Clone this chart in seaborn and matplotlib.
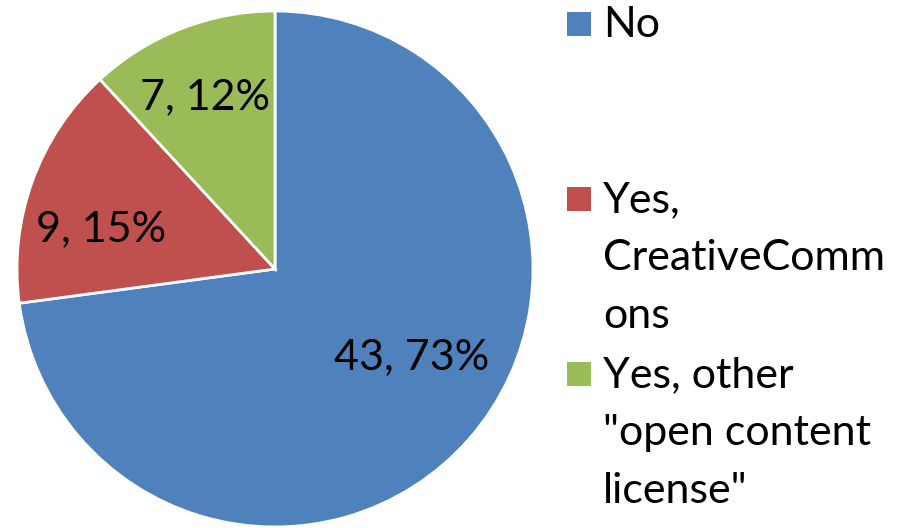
import matplotlib
matplotlib.use("Agg")
import matplotlib.pyplot as plt
from matplotlib.patches import Rectangle
import seaborn as sns
import numpy as np

categories = ["No", "Yes, CreativeCommons", 'Yes, other "open content license"']
legend_lines = [["No"], ["Yes,", "CreativeComm", "ons"], ["Yes, other", '"open content', 'license"']]
counts = [43, 9, 7]
colors = ["#4F81BD", "#C0504D", "#9BBB59"]

sns.set_theme(style="white")
plt.rcParams["font.family"] = ["Lato", "DejaVu Sans"]

W, H = 908, 528
fig = plt.figure(figsize=(W / 100, H / 100), dpi=100)

def px(x, y):
    return x / W, 1 - y / H

# pie area: centre (275, 269), radius 258 px
cx, cy, r = 275, 269, 258
ax = fig.add_axes([(cx - r) / W, 1 - (cy + r) / H, 2 * r / W, 2 * r / H])
total = sum(counts)
wedges, _ = ax.pie(counts, colors=colors, startangle=90, counterclock=False,
                   radius=1, wedgeprops=dict(edgecolor="white", linewidth=2))
ax.set_xlim(-1, 1)
ax.set_ylim(-1, 1)
ax.set_aspect("equal")
ax.axis("off")

FS = 31

# data labels: "count, percent" placed inside each slice
label_pos = [(-33, 0.63), (167, 0.69), (112, 0.72)]
for c, (ang, dist) in zip(counts, label_pos):
    a = np.deg2rad(ang)
    ax.text(dist * np.cos(a), dist * np.sin(a), f"{c}, {round(100 * c / total)}%",
            ha="center", va="center", fontsize=FS, color="black")

# legend: square marker beside wrapped entry text
first_baselines = [37, 212, 387]
line_step = 58
for col, lines, base in zip(colors, legend_lines, first_baselines):
    x0, y0 = px(567, base - 1)
    fig.patches.append(Rectangle((x0, y0), 24 / W, 24 / H, transform=fig.transFigure,
                                 facecolor=col, edgecolor="none"))
    for i, line in enumerate(lines):
        tx, ty = px(603, base + i * line_step)
        fig.text(tx, ty, line, ha="left", va="baseline", fontsize=FS, color="black")

fig.savefig("out.png", dpi=100, facecolor="white")
